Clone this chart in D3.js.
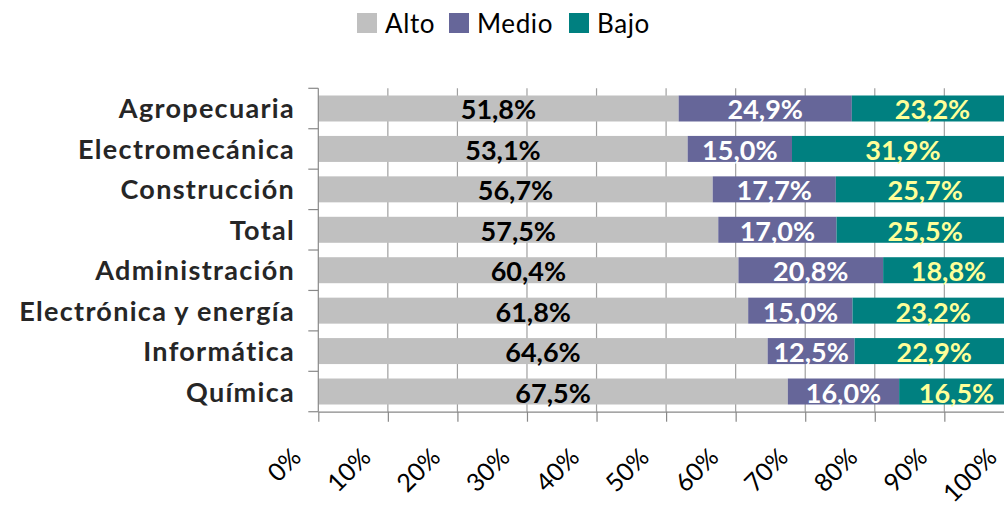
<!DOCTYPE html>
<html>
<head>
<meta charset="utf-8">
<script src="https://cdn.jsdelivr.net/npm/d3@7"></script>
<style>
  body { margin: 0; background: #fff; }
  svg { display: block; font-family: Lato, "Open Sans", sans-serif; }
</style>
</head>
<body>
<script>
// datos
var categorias = ["Agropecuaria", "Electromecánica", "Construcción", "Total",
                  "Administración", "Electrónica y energía", "Informática", "Química"];
var alto  = [51.8, 53.1, 56.7, 57.5, 60.4, 61.8, 64.6, 67.5];
var medio = [24.9, 15.0, 17.7, 17.0, 20.8, 15.0, 12.5, 16.0];
var bajo  = [23.2, 31.9, 25.7, 25.5, 18.8, 23.2, 22.9, 16.5];
var series = ["Alto", "Medio", "Bajo"];
var ticksX = [0, 10, 20, 30, 40, 50, 60, 70, 80, 90, 100];

var width = 1004, height = 509;
var colores = { Alto: "#c0c0c0", Medio: "#666699", Bajo: "#008080" };
var colorTexto = { Alto: "#000", Medio: "#fff", Bajo: "#ffff99" };

var svg = d3.select("body").append("svg")
    .attr("width", width)
    .attr("height", height);

var x = d3.scaleLinear().domain([0, 100]).range([318.3, 1013.9]);
var y = d3.scaleBand().domain(categorias).range([88.3, 411.7])
    .paddingInner(0.357).paddingOuter(0.178);

// lineas de grilla
svg.append("g").selectAll("line")
    .data(ticksX.slice(1))
    .enter().append("line")
    .attr("x1", function(d) { return x(d); })
    .attr("x2", function(d) { return x(d); })
    .attr("y1", y.range()[0])
    .attr("y2", y.range()[1])
    .attr("stroke", "#a0a0a0")
    .attr("stroke-width", 1.2);

// apilar
var filas = categorias.map(function(c, i) {
    return { cat: c, Alto: alto[i], Medio: medio[i], Bajo: bajo[i] };
});
var stack = d3.stack().keys(series)(filas);

var capas = svg.append("g").selectAll("g")
    .data(stack)
    .enter().append("g");

capas.selectAll("rect")
    .data(function(s) { return s.map(function(d) { return { key: s.key, d: d }; }); })
    .enter().append("rect")
    .attr("x", function(o) { return x(o.d[0]); })
    .attr("width", function(o) { return x(o.d[1]) - x(o.d[0]); })
    .attr("y", function(o) { return y(o.d.data.cat); })
    .attr("height", y.bandwidth())
    .attr("fill", function(o) { return colores[o.key]; });

capas.selectAll("text")
    .data(function(s) { return s.map(function(d) { return { key: s.key, d: d }; }); })
    .enter().append("text")
    .attr("x", function(o) { return (x(o.d[0]) + x(o.d[1])) / 2; })
    .attr("y", function(o) { return y(o.d.data.cat) + y.bandwidth() / 2 + 11; })
    .attr("text-anchor", "middle")
    .attr("font-size", 27)
    .attr("font-weight", "bold")
    .attr("fill", function(o) { return colorTexto[o.key]; })
    .text(function(o) { return o.d.data[o.key].toFixed(1).replace(".", ",") + "%"; });

// eje y
var ejeY = svg.append("g");
ejeY.append("line")
    .attr("x1", x(0)).attr("x2", x(0))
    .attr("y1", y.range()[0]).attr("y2", y.range()[1])
    .attr("stroke", "#888").attr("stroke-width", 1.2);
ejeY.selectAll("line.tk")
    .data(d3.range(categorias.length + 1))
    .enter().append("line")
    .attr("class", "tk")
    .attr("x1", x(0) - 10).attr("x2", x(0))
    .attr("y1", function(i) { return y.range()[0] + i * y.step(); })
    .attr("y2", function(i) { return y.range()[0] + i * y.step(); })
    .attr("stroke", "#888").attr("stroke-width", 1.2);
ejeY.selectAll("text")
    .data(categorias)
    .enter().append("text")
    .attr("x", 295)
    .attr("y", function(d) { return y(d) + y.bandwidth() / 2 + 10; })
    .attr("text-anchor", "end")
    .attr("font-size", 27)
    .attr("font-weight", "bold")
    .attr("letter-spacing", 1.3)
    .attr("fill", "#262626")
    .text(function(d) { return d; });

// eje x
var ejeX = svg.append("g")
    .attr("transform", "translate(0," + y.range()[1] + ")")
    .call(d3.axisBottom(x).tickValues(ticksX).tickSize(10).tickSizeOuter(0)
        .tickFormat(function(d) { return d + "%"; }));
ejeX.select(".domain").attr("stroke", "#888").attr("stroke-width", 1.2);
ejeX.selectAll(".tick line").attr("stroke", "#888").attr("stroke-width", 1.2);
ejeX.selectAll(".tick text")
    .attr("font-size", 25)
    .attr("font-family", "Lato, sans-serif")
    .attr("fill", "#000")
    .attr("text-anchor", "end")
    .attr("dy", null)
    .attr("y", 0)
    .attr("transform", "translate(-16,47) rotate(-45)");

// leyenda
var leyenda = svg.append("g");
var posX = [357, 449, 569];
series.forEach(function(s, i) {
    leyenda.append("rect")
        .attr("x", posX[i]).attr("y", 13)
        .attr("width", 20).attr("height", 20)
        .attr("fill", colores[s]);
    leyenda.append("text")
        .attr("x", posX[i] + 28).attr("y", 33)
        .attr("font-size", 26)
        .attr("letter-spacing", 0.6)
        .attr("fill", "#000")
        .text(s);
});
</script>
</body>
</html>
